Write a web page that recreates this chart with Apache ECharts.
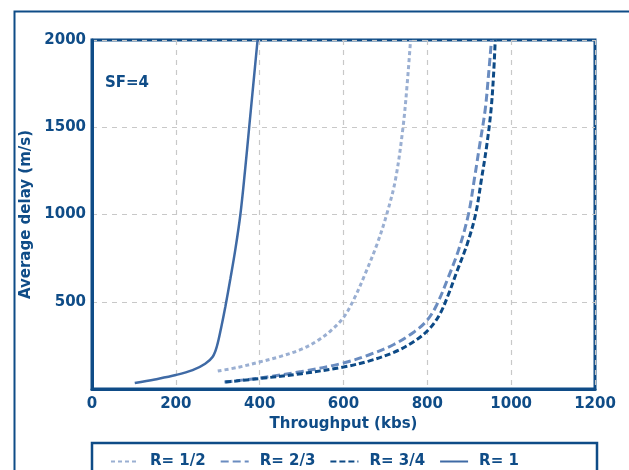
<!DOCTYPE html>
<html><head><meta charset="utf-8">
<script src="https://cdn.jsdelivr.net/npm/echarts@6/dist/echarts.min.js"></script>
<style>html,body{margin:0;padding:0;background:#fff}#c{width:629px;height:470px}</style>
</head><body><div id="c"></div>
<script>
const seriesNames = ['R= 1/2', 'R= 2/3', 'R= 3/4', 'R= 1'];
const xTicks = [0, 200, 400, 600, 800, 1000, 1200];
const yTicks = [500, 1000, 1500, 2000];
// [throughput kbs, average delay]
const r12 = [[300,103],[350,125],[400,155],[450,187],[500,228],[540,280],[570,335],[600,410],[625,515],[650,650],[680,830],[703,1000],[724,1200],[742,1500],[752,1750],[760,2000]];
const r23 = [[316,40],[400,63],[500,100],[600,149],[660,195],[720,255],[770,330],[800,395],[822,480],[850,640],[875,800],[898,1000],[912,1200],[925,1400],[938,1600],[946,1800],[953,2000]];
const r34 = [[318,40],[400,60],[500,88],[600,126],[660,160],[720,210],[770,275],[805,345],[830,430],[850,540],[870,670],[895,830],[915,1000],[929,1200],[942,1400],[952,1600],[958,1800],[962,2000]];
const r1 = [[102,34],[150,55],[200,80],[240,108],[270,145],[288,185],[298,245],[308,350],[318,470],[330,630],[342,800],[354,1000],[365,1250],[375,1500],[385,1750],[395,2000]];

const navy = '#0f4c87';
const font = 'DejaVu Sans';
const chart = echarts.init(document.getElementById('c'), null, {renderer:'canvas'});
const gridLine = {show:true, lineStyle:{color:'#c8c8c8', type:[5,5], width:1.2}};
const plain = v => String(v);
chart.setOption({
  animation:false,
  backgroundColor:'#fff',
  grid:{left:92, top:40, right:34, bottom:81, show:true, borderColor:navy, borderWidth:3, backgroundColor:'transparent'},
  xAxis:{type:'value', min:0, max:1200, interval:200,
    name:'Throughput (kbs)', nameLocation:'middle', nameGap:26,
    nameTextStyle:{color:navy, fontFamily:font, fontWeight:'bold', fontSize:15},
    axisLine:{show:true, lineStyle:{color:navy, width:3}},
    axisTick:{show:false},
    axisLabel:{color:navy, fontFamily:font, fontWeight:'bold', fontSize:15, margin:8, formatter:plain},
    splitLine:gridLine},
  yAxis:{type:'value', min:0, max:2000, interval:500,
    name:'Average delay (m/s)', nameLocation:'middle', nameGap:45,
    nameTextStyle:{color:navy, fontFamily:font, fontWeight:'bold', fontSize:15},
    axisLine:{show:true, lineStyle:{color:navy, width:3}},
    axisTick:{show:false},
    axisLabel:{color:navy, fontFamily:font, fontWeight:'bold', fontSize:15, margin:6, showMinLabel:false, formatter:plain},
    splitLine:gridLine},
  legend:{left:105, top:449, itemWidth:28, itemHeight:14, itemGap:14,
    data:seriesNames,
    itemStyle:{opacity:0},
    textStyle:{color:navy, fontFamily:font, fontWeight:'bold', fontSize:15, padding:[0,0,0,6]}},
  graphic:[
    {type:'rect', left:12, top:9, shape:{width:700, height:600}, style:{fill:'none', stroke:navy, lineWidth:2}, z:-1},
    {type:'rect', shape:{x:92, y:443, width:505, height:60}, style:{fill:'#fff', stroke:navy, lineWidth:2.5}, z:0},
    {type:'text', left:105, top:76, style:{text:'SF=4', fill:navy, font:'bold 15px "DejaVu Sans"'}}
  ],
  series:[
    {name:seriesNames[0], type:'line', data:r12, smooth:0.35, showSymbol:false, symbol:'none', z:5,
      lineStyle:{color:'#9aafd2', width:3, type:[4,3]}, itemStyle:{color:'#9aafd2'}},
    {name:seriesNames[1], type:'line', data:r23, smooth:0.35, showSymbol:false, symbol:'none', z:5,
      lineStyle:{color:'#6a8cc0', width:3, type:[8,4]}, itemStyle:{color:'#6a8cc0'}},
    {name:seriesNames[2], type:'line', data:r34, smooth:0.35, showSymbol:false, symbol:'none', z:5,
      lineStyle:{color:'#0d4a86', width:3, type:[6,3]}, itemStyle:{color:'#0d4a86'}},
    {name:seriesNames[3], type:'line', data:r1, smooth:0.35, showSymbol:false, symbol:'none', z:5,
      lineStyle:{color:'#3f6aa5', width:2.5, type:'solid'}, itemStyle:{color:'#3f6aa5'}}
  ]
});
</script></body></html>
